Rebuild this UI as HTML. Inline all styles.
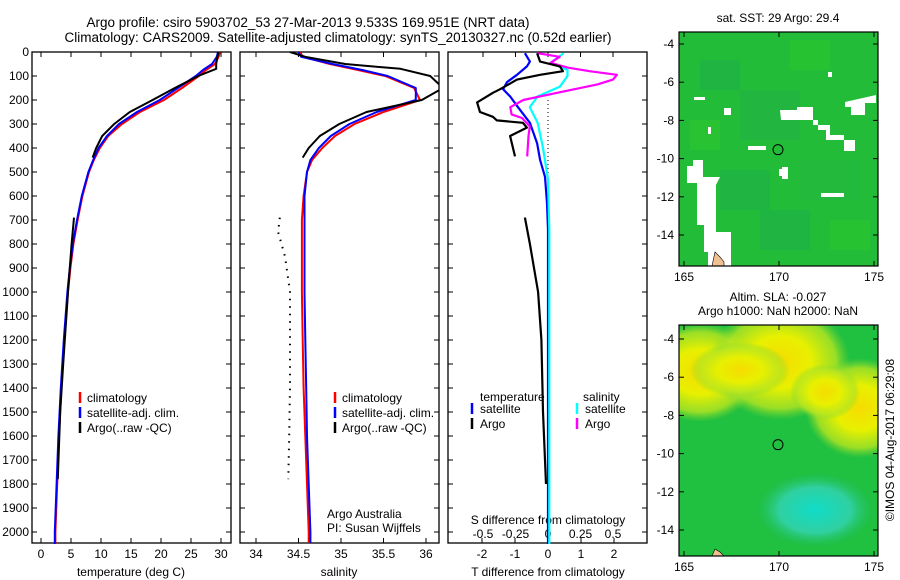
<!DOCTYPE html>
<html><head><meta charset="utf-8"><style>
body{margin:0;background:#fff;}
svg{display:block;font-family:"Liberation Sans",sans-serif;}
</style></head><body>
<svg id="fig" width="900" height="580" viewBox="0 0 900 580">
<text x="308" y="27" font-size="13.5" text-anchor="middle">Argo profile: csiro 5903702_53 27-Mar-2013 9.533S 169.951E (NRT data)</text>
<text x="338" y="42" font-size="13.5" text-anchor="middle">Climatology: CARS2009. Satellite-adjusted climatology: synTS_20130327.nc (0.52d earlier)</text>
</svg>
<script>
const NS='http://www.w3.org/2000/svg';
const svg=document.getElementById('fig');
function mk(tag,attrs,parent){const e=document.createElementNS(NS,tag);for(const k in attrs)e.setAttribute(k,attrs[k]);(parent||svg).appendChild(e);return e;}
function txt(x,y,s,size,anchor,parent){const t=mk('text',{x:x,y:y,'font-size':size||12,'text-anchor':anchor||'middle'},parent);t.textContent=s;return t;}

// ---------- data ----------
const depthTicks=[0,100,200,300,400,500,600,700,800,900,1000,1100,1200,1300,1400,1500,1600,1700,1800,1900,2000];
const tempTicks=[0,5,10,15,20,25,30];
const salTicks=[34,34.5,35,35.5,36];
const sdTicks=[-0.5,-0.25,0,0.25,0.5];
const sdTickLabels=['-0.5','-0.25','0','0.25','0.5'];
const tdTicks=[-2,-1,0,1,2];

const climDepth=[0,20,50,75,100,150,200,250,300,350,400,450,500,600,700,800,900,1000,1200,1400,1600,1800,2000,2050];
const tempClim=[29.8,29.6,29,27.5,26.3,23.5,20.5,16.5,13.5,11.2,9.8,8.8,8.0,6.9,6.1,5.4,4.9,4.5,3.9,3.4,3.0,2.7,2.4,2.4];
const tempSat=[29.5,29.3,28.5,27,25.8,22.8,19.8,16,13,11,9.6,8.7,7.9,6.8,6.0,5.3,4.8,4.4,3.8,3.3,2.9,2.6,2.3,2.3];
const argoDepthUpper=[0,20,50,70,100,150,200,250,300,350,400,440];
const tempArgoUpper=[29.6,29.4,29.2,29.2,26.2,22.3,18.6,14.8,12.2,10.2,9.2,8.6];
const argoDepthLower=[690,800,1000,1300,1500,1780];
const tempArgoLower=[5.5,5.1,4.5,3.7,3.2,2.8];

const salClim=[34.52,34.55,34.87,35.2,35.52,35.86,35.93,35.5,35.16,34.93,34.78,34.66,34.6,34.56,34.54,34.54,34.54,34.54,34.55,34.56,34.58,34.6,34.62,34.62];
const salSat=[34.5,34.53,34.9,35.25,35.55,35.88,35.88,35.42,35.1,34.88,34.74,34.64,34.6,34.57,34.57,34.57,34.57,34.57,34.58,34.59,34.6,34.62,34.64,34.64];
const salArgoUpper=[34.4,34.58,35.05,35.7,36.05,36.2,35.95,35.3,34.98,34.75,34.62,34.55];
const salArgoLowerDepth=[690,750,850,1000,1200,1400,1600,1780];
const salArgoLower=[34.28,34.26,34.34,34.4,34.4,34.4,34.39,34.38];

const tdArgoDepth=[5,40,60,80,95,115,155,170,210,250,270,285,295,315,350,435];
const tdArgo=[-0.33,-0.24,0.36,0.45,-0.24,-0.94,-1.45,-1.67,-2.15,-2.06,-1.67,-1.55,-0.76,-0.64,-1.15,-1.0];
const tdArgoLowerDepth=[690,800,1000,1200,1500,1800];
const tdArgoLower=[-0.7,-0.55,-0.3,-0.2,-0.15,-0.06];
const tdSatDepth=[5,40,60,95,125,155,185,230,295,380,450,520,630,740,1000,1500,2050];
const tdSat=[-0.7,-0.55,-0.64,-0.94,-1.24,-1.36,-1.15,-0.91,-0.55,-0.33,-0.24,-0.09,-0.03,0,0,0,0];
const sdArgoDepth=[5,20,45,65,80,95,115,135,170,200,230,260,275,310,350,435];
const sdArgo=[-0.08,0.09,0.02,0.15,0.32,0.53,0.50,0.38,0.07,-0.19,-0.29,-0.28,-0.2,-0.14,-0.15,-0.16];
const sdSatDepth=[5,45,75,100,145,185,230,295,395,530,740,1200,2050];
const sdSat=[0.12,0.02,0.15,0.15,0.09,-0.08,-0.14,-0.08,-0.04,0,0.01,0.01,0.01];

// ---------- axes ----------
const TOP=52,BOT=543;
function yD(d){return TOP+d*0.24;}
const xT=v=>41+v*6;
const xS=v=>256+(v-34)*85;
const xSD=v=>548+v*130;
const xTD=v=>548+v*33;

function panel(x0,x1,name){
  const g=mk('g',{});
  
  
  mk('rect',{x:x0,y:TOP,width:x1-x0,height:BOT-TOP,fill:'none',stroke:'#000','stroke-width':1.3},g);
  depthTicks.forEach(d=>{
    mk('line',{x1:x0,x2:x0+5,y1:yD(d),y2:yD(d),stroke:'#000'},g);
    mk('line',{x1:x1-5,x2:x1,y1:yD(d),y2:yD(d),stroke:'#000'},g);
  });
  return g;
}
function line(xs,ds,fx,color,w,g,name,dash){
  const p=xs.map((v,i)=>fx(v).toFixed(1)+','+yD(ds[i]).toFixed(1)).join(' ');
  const e=mk('polyline',{points:p,fill:'none',stroke:color,'stroke-width':w||2,'stroke-linejoin':'round'},g);
  if(dash)e.setAttribute('stroke-dasharray',dash);
  
  
  return e;
}

// panel 1 temperature
const p1=panel(32,231,'temperature-panel');
depthTicks.forEach(d=>{txt(29,yD(d)+4,String(d),12,'end',p1);});
tempTicks.forEach(v=>{mk('line',{x1:xT(v),x2:xT(v),y1:BOT,y2:BOT-5,stroke:'#000'},p1);mk('line',{x1:xT(v),x2:xT(v),y1:TOP,y2:TOP+5,stroke:'#000'},p1);txt(xT(v),558,String(v),12,'middle',p1);});
txt(131,576,'temperature (deg C)',12,'middle',p1);
line(tempClim,climDepth,xT,'#f00',2,p1,'temp-climatology-line');
line(tempSat,climDepth,xT,'#00f',2,p1,'temp-satellite-line');
line(tempArgoUpper,argoDepthUpper,xT,'#000',2,p1,'temp-argo-upper-line');
line(tempArgoLower,argoDepthLower,xT,'#000',2,p1,'temp-argo-lower-line');

// panel 2 salinity
const p2=panel(240,439,'salinity-panel');
salTicks.forEach(v=>{mk('line',{x1:xS(v),x2:xS(v),y1:BOT,y2:BOT-5,stroke:'#000'},p2);mk('line',{x1:xS(v),x2:xS(v),y1:TOP,y2:TOP+5,stroke:'#000'},p2);txt(xS(v),558,String(v),12,'middle',p2);});
txt(339,576,'salinity',12,'middle',p2);
const cl2=mk('clipPath',{id:'clipSal'});mk('rect',{x:240,y:TOP,width:199,height:BOT-TOP},cl2);
const p2c=mk('g',{'clip-path':'url(#clipSal)'},p2);
line(salClim,climDepth,xS,'#f00',2,p2c,'sal-climatology-line');
line(salSat,climDepth,xS,'#00f',2,p2c,'sal-satellite-line');
line(salArgoUpper,argoDepthUpper,xS,'#000',2,p2c,'sal-argo-upper-line');
line(salArgoLower,salArgoLowerDepth,xS,'#000',2,p2c,'sal-argo-lower-dotted',"1.5,6");
txt(327,518,'Argo Australia',12,'start',p2);
txt(327,532,'PI: Susan Wijffels',12,'start',p2);

// legends p1 p2
[[80,p1],[335,p2]].forEach(([lx,g])=>{
  const items=[['#f00','climatology'],['#00f','satellite-adj. clim.'],['#000','Argo(..raw -QC)']];
  items.forEach((it,i)=>{const y=398+i*15;mk('line',{x1:lx,x2:lx,y1:y-6,y2:y+5,stroke:it[0],'stroke-width':2.5},g);const t=txt(lx+7,y+4,it[1],12,'start',g);
  });
});

// panel 3 differences
const p3=panel(448,647,'difference-panel');
mk('line',{x1:548,x2:548,y1:100,y2:BOT,stroke:'#000','stroke-dasharray':'1,3'},p3);
sdTicks.forEach((v,i)=>{mk('line',{x1:xSD(v),x2:xSD(v),y1:TOP,y2:TOP+5,stroke:'#000'},p3);txt(xSD(v),538,sdTickLabels[i],12,'middle',p3);});
tdTicks.forEach(v=>{mk('line',{x1:xTD(v),x2:xTD(v),y1:BOT,y2:BOT-5,stroke:'#000'},p3);txt(xTD(v),558,String(v),12,'middle',p3);});
txt(548,524,'S difference from climatology',12,'middle',p3);
txt(548,576,'T difference from climatology',12,'middle',p3);
line(tdSat,tdSatDepth,xTD,'#00f',2.2,p3,'tdiff-satellite-line');
line(sdSat,sdSatDepth,xSD,'#0ff',2.2,p3,'sdiff-satellite-line');
line(sdArgo,sdArgoDepth,xSD,'#f0f',2.2,p3,'sdiff-argo-line');
line(tdArgo,tdArgoDepth,xTD,'#000',2.2,p3,'tdiff-argo-line');
line(tdArgoLower,tdArgoLowerDepth,xTD,'#000',2.2,p3,'tdiff-argo-lower-line');
txt(480,401,'temperature',12,'start',p3);
txt(583,401,'salinity',12,'start',p3);
[[472,'#00f','satellite',413],[472,'#000','Argo',428],[577,'#0ff','satellite',413],[577,'#f0f','Argo',428]].forEach(a=>{
  mk('line',{x1:a[0],x2:a[0],y1:a[3]-10,y2:a[3]+1,stroke:a[1],'stroke-width':2.5},p3);
  const t=txt(a[0]+8,a[3],a[2],12,'start',p3);
  
});

// ---------- maps ----------
const defs=mk('defs',{});
defs.innerHTML='<radialGradient id="yel1" cx="0.5" cy="0.5" r="0.5"><stop offset="0" stop-color="#f6dc00"/><stop offset="0.45" stop-color="#e8f000"/><stop offset="0.8" stop-color="#b8e620" stop-opacity="0.8"/><stop offset="1" stop-color="#80d830" stop-opacity="0"/></radialGradient>'+
'<radialGradient id="cy1" cx="0.5" cy="0.5" r="0.5"><stop offset="0" stop-color="#10dcc8"/><stop offset="0.6" stop-color="#30d0a0"/><stop offset="1" stop-color="#20c060" stop-opacity="0"/></radialGradient>'+
'<clipPath id="clipM1"><rect x="679" y="32" width="199" height="234"/></clipPath>'+
'<clipPath id="clipM2"><rect x="679" y="325" width="199" height="231"/></clipPath>';
const lonX=lo=>684+(lo-165)*19;
function mapAxes(g,top,bot,latY){
  mk('rect',{x:679,y:top,width:199,height:bot-top,fill:'none',stroke:'#000','stroke-width':1.2},g);
  [-4,-6,-8,-10,-12,-14].forEach(l=>{const y=latY(l);mk('line',{x1:679,x2:684,y1:y,y2:y,stroke:'#000'},g);mk('line',{x1:873,x2:878,y1:y,y2:y,stroke:'#000'},g);txt(674,y+4,String(l),12,'end',g);});
  [165,170,175].forEach(lo=>{const x=lonX(lo);mk('line',{x1:x,x2:x,y1:bot,y2:bot-5,stroke:'#000'},g);mk('line',{x1:x,x2:x,y1:top,y2:top+5,stroke:'#000'},g);txt(x,bot+15,String(lo),12,'middle',g);});
}
// map 1
const m1=mk('g',{});

const m1c=mk('g',{'clip-path':'url(#clipM1)'},m1);
const lat1=l=>44+(-4-l)*19.1;
mk('rect',{x:679,y:32,width:199,height:234,fill:'#22bc38'},m1c);
[[700,60,40,30,'#20b048'],[740,90,60,50,'#22b444'],[790,40,40,30,'#28c430'],[720,170,50,40,'#20b048'],[800,160,60,40,'#22b840'],[760,210,50,40,'#20b048'],[830,220,40,30,'#28c430'],[690,120,30,30,'#2cc430']].forEach(r=>mk('rect',{x:r[0],y:r[1],width:r[2],height:r[3],fill:r[4],opacity:0.7},m1c));
mk('path',{d:'M687,166 L693,166 L693,160 L703,160 L703,177 L720,177 L716,185 L716,232 L731,232 L731,266 L708,266 L708,252 L704,252 L704,225 L697,225 L697,183 L687,183 Z',fill:'#fff'},m1c);
mk('path',{d:'M780,110 L797,110 L797,107 L813,107 L813,125 L830,125 L830,135 L844,135 L844,151 L855,151 L855,140 L826,140 L826,130 L818,130 L818,120 L781,120 Z',fill:'#fff'},m1c);
mk('path',{d:'M845,102 L876,95 L876,103 L865,103 L865,115 L851,115 L851,107 L845,107 Z',fill:'#fff'},m1c);
[[694,97,11,3],[724,108,7,7],[748,146,18,4],[708,127,3,7],[782,167,6,12],[821,193,23,4],[828,72,4,5],[779,169,5,7]].forEach(r=>mk('rect',{x:r[0],y:r[1],width:r[2],height:r[3],fill:'#fff'},m1c));
mk('path',{d:'M715,252 L720,257 L724,262 L724,266 L712,266 Z',fill:'#f0c090',stroke:'#000','stroke-width':0.6},m1c);
mk('circle',{cx:lonX(170)-1,cy:lat1(-9.533),r:5,fill:'none',stroke:'#000','stroke-width':1},m1);
mapAxes(m1,32,266,lat1);
txt(778,22,'sat. SST: 29 Argo: 29.4',12,'middle',m1);

// map 2
const m2=mk('g',{});

const m2c=mk('g',{'clip-path':'url(#clipM2)'},m2);
const lat2=l=>339+(-4-l)*19.1;
mk('rect',{x:679,y:325,width:199,height:231,fill:'#20c040'},m2c);
mk('ellipse',{cx:700,cy:372,rx:60,ry:50,fill:'url(#yel1)'},m2c);
mk('ellipse',{cx:780,cy:362,rx:70,ry:58,fill:'url(#yel1)'},m2c);
mk('ellipse',{cx:740,cy:370,rx:50,ry:28,fill:'url(#yel1)'},m2c);
mk('ellipse',{cx:860,cy:408,rx:55,ry:50,fill:'url(#yel1)'},m2c);
mk('ellipse',{cx:825,cy:392,rx:35,ry:28,fill:'url(#yel1)'},m2c);
mk('ellipse',{cx:815,cy:510,rx:60,ry:38,fill:'url(#cy1)'},m2c);
mk('path',{d:'M715,549 L720,552 L724,556 L712,556 Z',fill:'#f0c090',stroke:'#000','stroke-width':0.6},m2c);
mk('circle',{cx:lonX(170)-1,cy:lat2(-9.533),r:5,fill:'none',stroke:'#000','stroke-width':1},m2);
mapAxes(m2,325,556,lat2);
txt(778,301,'Altim. SLA: -0.027',12,'middle',m2);
txt(778,315,'Argo h1000: NaN h2000: NaN',12,'middle',m2);
const ts=mk('text',{x:0,y:0,'font-size':12,'text-anchor':'middle',transform:'translate(894,440) rotate(-90)'});
ts.textContent='©IMOS 04-Aug-2017 06:29:08';


</script>
</body></html>
